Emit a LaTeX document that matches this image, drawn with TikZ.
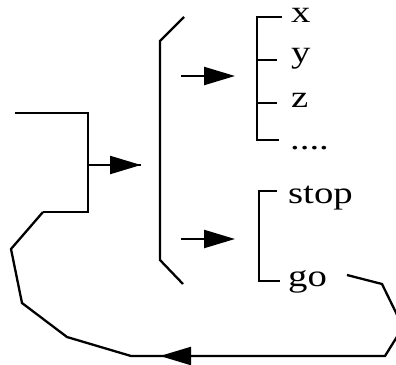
\documentclass[tikz,border=0pt]{standalone}
\usepackage{fontspec}
\newfontfamily\treefont[FakeStretch=1.25]{Liberation Serif}
\usetikzlibrary{arrows.meta}
\tikzset{
  lbl/.style={anchor=base west,inner sep=0pt,font=\treefont\fontsize{31}{31}\selectfont},
  arr/.style={-{Triangle[length=31pt,width=18pt]}}
}
\begin{document}
\begin{tikzpicture}[x=1pt,y=-1pt,line width=2.3pt,line join=miter]
\useasboundingbox (0,0) rectangle (396,364);
% outer bracket on the left
\coordinate (l0) at (15,113);
\coordinate (l1) at (88,113);
\coordinate (l2) at (88,212);
\coordinate (l3) at (43,212);
\coordinate (lm) at (88,165);
\coordinate (lt) at (141,165);
% big bracket
\coordinate (b0) at (184,17);
\coordinate (b1) at (160,41);
\coordinate (b2) at (160,260);
\coordinate (b3) at (183,284);
\coordinate (a1) at (181,76);
\coordinate (t1) at (235,76);
\coordinate (a2) at (181,239);
\coordinate (t2) at (235,239);
% x y z bracket
\coordinate (v0) at (282,17);
\coordinate (v1) at (257,17);
\coordinate (v2) at (257,140);
\coordinate (v3) at (279,140);
\coordinate (vy) at (257,60);
\coordinate (vy1) at (277,60);
\coordinate (vz) at (257,103);
\coordinate (vz1) at (277,103);
% stop / go bracket
\coordinate (s0) at (277,191);
\coordinate (s1) at (259,191);
\coordinate (s2) at (259,281);
\coordinate (s3) at (280,281);
% loop back from go
\coordinate (g0) at (347,275);
\coordinate (g1) at (382,284);
\coordinate (g2) at (403,327);
\coordinate (g3) at (385,356);
\coordinate (gt) at (160,356);
\coordinate (g4) at (131,356);
\coordinate (g5) at (67,337);
\coordinate (g6) at (22,303);
\coordinate (g7) at (11,249);

\node[lbl] (x) at (290,22) {x};
\node[lbl] (y) at (290,62) {y};
\node[lbl] (z) at (290,107) {z};
\node[lbl] (dots) at (289,149) {....};
\node[lbl] (stop) at (287,203) {stop};
\node[lbl] (go) at (287,286) {go};

\draw (l0) -- (l1) -- (l2) -- (l3);
\draw (lm) -- (lt);
\draw[arr] (lm) -- (lt);
\draw (b0) -- (b1) -- (b2) -- (b3);
\draw[arr] (a1) -- (t1);
\draw[arr] (a2) -- (t2);
\draw (v0) -- (v1) -- (v2) -- (v3)
      (vy) -- (vy1)
      (vz) -- (vz1);
\draw (s0) -- (s1) -- (s2) -- (s3);
\draw (g0) -- (g1) -- (g2) -- (g3) -- (g4) -- (g5) -- (g6) -- (g7) -- (l3);
\draw[arr] (g3) -- (gt);
\end{tikzpicture}
\end{document}
